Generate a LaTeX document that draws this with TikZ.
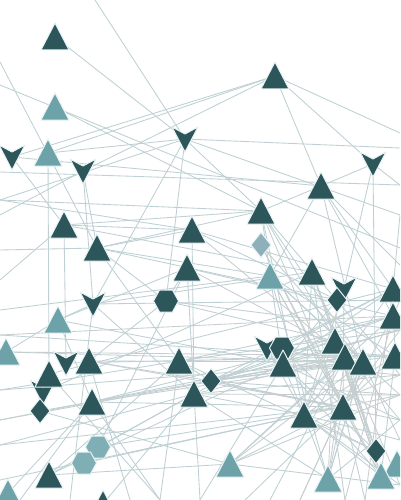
\documentclass[tikz,border=0pt]{standalone}
\definecolor{dk}{RGB}{45,86,91}
\definecolor{lt}{RGB}{108,162,168}
\definecolor{lthex}{RGB}{128,174,181}
\definecolor{ltdia}{RGB}{142,176,186}
\definecolor{halo}{RGB}{232,243,244}
\definecolor{ecol}{RGB}{190,208,211}
\definecolor{gcol}{RGB}{200,206,207}
\begin{document}
\begin{tikzpicture}[x=1pt,y=-1pt,
  edge/.style={draw=ecol,line width=0.85pt},
  gedge/.style={draw=gcol,line width=0.85pt},
  dks/.style={fill=dk,draw=halo,line width=1pt,line join=round},
  lts/.style={fill=lt,draw=halo,line width=1pt,line join=round},
  tri/.pic={\path[pic actions] (-14,13) -- (0,-14) -- (14,13) -- cycle;},
  chev/.pic={\path[pic actions] (-13,-12) -- (0,-5) -- (13,-12) -- (0,13) -- cycle;},
  dia/.pic={\path[pic actions] (0,-12.5) -- (10,0) -- (0,12.5) -- (-10,0) -- cycle;},
  hex/.pic={\path[pic actions] (-12.5,0) -- (-6.5,-11) -- (6.5,-11) -- (12.5,0) -- (6.5,11) -- (-6.5,11) -- cycle;}]
\useasboundingbox (0,0) rectangle (400,500);
\fill[white] (0,0) rectangle (400,500);
\clip (0,0) rectangle (400,500);
% shape positions
\coordinate (t1) at (55,37);   \coordinate (t2) at (55,107);  \coordinate (t3) at (275,76);
\coordinate (c4) at (185,139); \coordinate (c5) at (12,157);  \coordinate (t6) at (48,153);
\coordinate (c7) at (83,171);  \coordinate (c8) at (373,164); \coordinate (t9) at (321,186);
\coordinate (t10) at (64,225); \coordinate (t11) at (97,248); \coordinate (t12) at (192,230);
\coordinate (t13) at (187,268);\coordinate (c14) at (93,304); \coordinate (h15) at (166,301);
\coordinate (t16) at (58,320); \coordinate (t17) at (261,211);\coordinate (d18) at (261,245);
\coordinate (t19) at (270,276);\coordinate (t20) at (312,272);\coordinate (c21) at (344,289);
\coordinate (d22) at (337,300);\coordinate (t23) at (393,289);\coordinate (t24) at (393,316);
\coordinate (t25) at (335,341);\coordinate (t26) at (6,352);  \coordinate (c27) at (66,363);
\coordinate (t28) at (89,361); \coordinate (t29) at (49,374); \coordinate (c30) at (43,392);
\coordinate (d31) at (40,411); \coordinate (t32) at (92,402); \coordinate (t33) at (179,361);
\coordinate (t34) at (194,394);\coordinate (d35) at (211,381);\coordinate (h36) at (98,447);
\coordinate (h37) at (84,463); \coordinate (t38) at (49,475); \coordinate (t39) at (8,493);
\coordinate (t40) at (103,504);\coordinate (c41) at (267,348);\coordinate (h42) at (282,348);
\coordinate (t43) at (283,364);\coordinate (t44) at (345,357);\coordinate (t45) at (363,362);
\coordinate (t46) at (395,356);\coordinate (t47) at (304,415);\coordinate (t48) at (343,407);
\coordinate (d49) at (376,451);\coordinate (t50) at (230,464);\coordinate (t51) at (328,479);
\coordinate (t52) at (381,476);\coordinate (t53) at (397,464);
% border anchors
\coordinate (tp1) at (95,0);
\coordinate (l1) at (0,62);  \coordinate (l2) at (0,85);  \coordinate (l3) at (0,172);
\coordinate (l4) at (0,200); \coordinate (l5) at (0,215); \coordinate (l6) at (0,250);
\coordinate (l7) at (0,280); \coordinate (l8) at (0,310); \coordinate (l9) at (0,335);
\coordinate (l10) at (0,390);\coordinate (l11) at (0,420);\coordinate (l12) at (0,445);
\coordinate (l13) at (0,480);
\coordinate (r1) at (400,133);\coordinate (r2) at (400,148);\coordinate (r3) at (400,185);
\coordinate (r4) at (400,215);\coordinate (r5) at (400,248);\coordinate (r6) at (400,265);
\coordinate (r7) at (400,300);\coordinate (r8) at (400,330);\coordinate (r9) at (400,375);
\coordinate (r10) at (400,395);\coordinate (r11) at (400,420);\coordinate (r12) at (400,440);
\coordinate (r13) at (400,485);
\coordinate (b1) at (20,500); \coordinate (b2) at (70,500); \coordinate (b3) at (130,500);
\coordinate (b4) at (160,500);\coordinate (b5) at (200,500);\coordinate (b6) at (245,500);
\coordinate (b7) at (270,500);\coordinate (b8) at (300,500);\coordinate (b9) at (345,500);
\coordinate (b10) at (365,500);
% connectors
\foreach \a/\b in {tp1/c4, t1/c4, l1/t11, l2/r5, t3/t6, t3/c5, t3/c7, t3/r1, t3/c8, t3/t9,
  t6/c4, c4/r2, c5/t9, l3/r3, c4/c14, c4/t17, c4/r4, c4/h15, t2/t17, c8/c21, c8/d49,
  t6/t29, c7/c14, t12/t34, t9/t19, t9/t45, t9/r6, l4/t12, l5/c7, t10/t17, t10/t20,
  t11/t19, t11/d22, t11/t12, l6/t11, l7/t10, t10/c27, t11/t33, c14/t20, c14/r7,
  h15/t25, h15/r8, h15/t13, t16/t43, t16/t13, t13/t24, t12/t23, t12/d22, t17/t43,
  t17/t44, t17/t47, t17/t45, t17/r9, d18/t48, d18/t45, t19/t46, t19/t45, t19/t51,
  t19/t48, t19/r10, t20/t44, t20/d49, t20/t47, t20/b9, c21/t48, d22/t43, t23/t43,
  t23/d35, t23/t34, t24/d35, t24/t33, t24/h42, t25/t52, t25/t47, l8/t19, l9/t44,
  t26/t45, c27/t46, t28/t45, t28/d35, t29/t23, c30/t20, d31/t44, t32/t48, t32/t25,
  t33/r8, t34/r9, d35/t44, d35/t45, d35/t46, d35/t48, d35/r10, d35/r11, d35/t25,
  d35/r8, t33/d35, t34/t47, t34/t51, h36/t48, h36/t34, h37/t47, t38/t33, t38/t43,
  t38/t50, t40/t34, t39/t32, t50/t48, t50/t44, t50/t24, t51/t48, t51/t45, t52/t44,
  d49/t43, d49/t33, t47/r12, t43/r11, t43/t52, t44/b7, t45/b8, t46/b6, t48/b10,
  r13/t50, b1/t32, b3/t28, b4/t33, b5/t13, l10/t45, l11/t43, l12/t48, l13/t47,
  b2/c14, b5/t43, h15/t11, h15/t28, t16/t32, c14/t34, t10/t12, l4/c4, c5/t10,
  l10/t33, t29/b4, d31/t50, t38/t34, l12/t34, h36/t13, t32/b4, r13/t47, t51/r11,
  c7/t11, t17/t11, t17/l4, t9/t17, c8/t9, c8/r3, t9/t23, t9/t24, t23/r4, t24/r7,
  t46/t23, t46/t52, t44/d49, t45/t51, t48/t52, t47/t52, t43/t47, t47/t51, h42/t46,
  c41/t45, t26/t16, t16/c14}
  \draw[edge] (\a) -- (\b);
\foreach \a/\b in {r8/t43, r9/t43, r10/t47, t48/r8, t45/r12, t44/r13, d49/t47,
  d49/t25, t52/t25, t51/t44, t50/t45, t50/r10, t47/r9, t24/t48, t23/t47, t46/t47,
  b8/t45, b9/t24, b10/t23, c21/t47, d22/t51, t20/t52, t19/t52, h42/t48, c41/t47,
  t25/r11, t33/t45, t34/t44, t34/r10, d18/t52, t17/t48, t13/t45, t12/t44,
  t28/t48, t32/t45, l11/t44, l9/t24, t26/t46}
  \draw[gedge] (\a) -- (\b);
% shapes
\pic[dks] at (t1) {tri};   \pic[lts] at (t2) {tri};   \pic[dks] at (t3) {tri};
\pic[dks] at (c4) {chev};  \pic[dks] at (c5) {chev};  \pic[lts] at (t6) {tri};
\pic[dks] at (c7) {chev};  \pic[dks] at (c8) {chev};  \pic[dks] at (t9) {tri};
\pic[dks] at (t10) {tri};  \pic[dks] at (t11) {tri};  \pic[dks] at (t12) {tri};
\pic[dks] at (t13) {tri};  \pic[dks] at (c14) {chev}; \pic[dks] at (h15) {hex};
\pic[lts] at (t16) {tri};  \pic[dks] at (t17) {tri};
\pic[fill=ltdia,draw=halo,line width=1pt] at (d18) {dia};
\pic[lts] at (t19) {tri};  \pic[dks] at (t20) {tri};  \pic[dks] at (c21) {chev};
\pic[dks] at (d22) {dia};  \pic[dks] at (t23) {tri};  \pic[dks] at (t24) {tri};
\pic[dks] at (t25) {tri};  \pic[lts] at (t26) {tri};  \pic[dks] at (c27) {chev};
\pic[dks] at (t28) {tri};  \pic[dks] at (c30) {chev}; \pic[dks] at (t29) {tri};
\pic[dks] at (d31) {dia};  \pic[dks] at (t32) {tri};  \pic[dks] at (t33) {tri};
\pic[dks] at (t34) {tri};  \pic[dks] at (d35) {dia};
\pic[fill=lthex,draw=halo,line width=1pt] at (h36) {hex};
\pic[fill=lthex,draw=halo,line width=1pt] at (h37) {hex};
\pic[dks] at (t38) {tri};  \pic[lts] at (t39) {tri};  \pic[dks] at (t40) {tri};
\pic[dks] at (c41) {chev}; \pic[dks] at (h42) {hex};  \pic[dks] at (t43) {tri};
\pic[dks] at (t44) {tri};  \pic[dks] at (t45) {tri};  \pic[dks] at (t46) {tri};
\pic[dks] at (t47) {tri};  \pic[dks] at (t48) {tri};  \pic[dks] at (d49) {dia};
\pic[lts] at (t50) {tri};  \pic[lts] at (t51) {tri};  \pic[lts] at (t53) {tri};
\pic[lts] at (t52) {tri};
\end{tikzpicture}
\end{document}
